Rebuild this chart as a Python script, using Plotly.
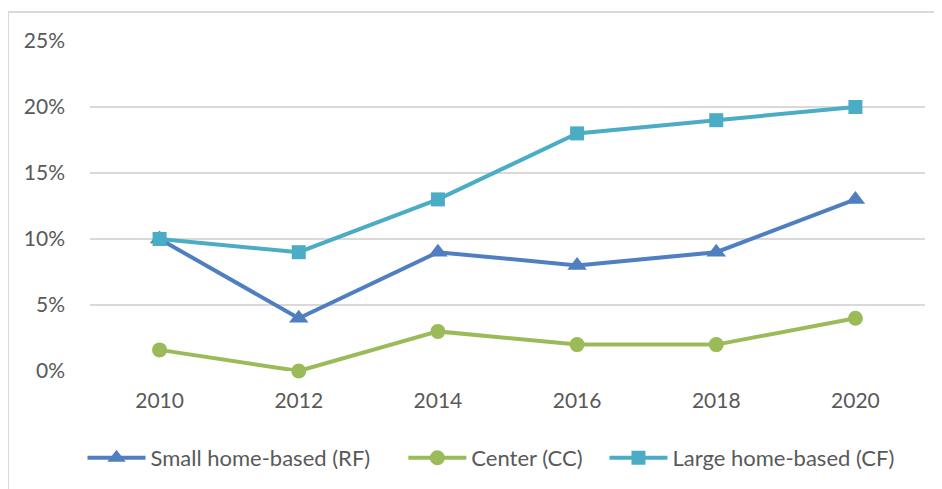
import plotly.graph_objects as go

years = ["2010", "2012", "2014", "2016", "2018", "2020"]
small_rf = [0.10, 0.04, 0.09, 0.08, 0.09, 0.13]
center_cc = [0.016, 0.0, 0.03, 0.02, 0.02, 0.04]
large_cf = [0.10, 0.09, 0.13, 0.18, 0.19, 0.20]
y_ticks = [0, 0.05, 0.10, 0.15, 0.20, 0.25]
y_tick_labels = ["0%", "5%", "10%", "15%", "20%", "25%"]
series_names = ["Small home-based (RF)", "Center (CC)", "Large home-based (CF)"]

W, H = 942, 489
OFF = 8  # page body margin
# target screen positions of plot area
SL, SR, ST, SB = 90, 925, 41, 371
L = SL - OFF
T = ST - OFF
R = W - (SR - OFF)
B = H - (SB - OFF)

NB = "\u00a0"
fig = go.Figure()
fig.add_trace(go.Scatter(x=years, y=small_rf, name=series_names[0] + NB * 5, mode="lines+markers",
                         line=dict(color="#4F7FC0", width=4),
                         marker=dict(symbol="triangle-up", size=17, color="#4F7FC0"),
                         cliponaxis=False))
fig.add_trace(go.Scatter(x=years, y=center_cc, name=series_names[1] + NB * 3, mode="lines+markers",
                         line=dict(color="#9BBB59", width=4),
                         marker=dict(symbol="circle", size=15, color="#9BBB59"),
                         cliponaxis=False))
fig.add_trace(go.Scatter(x=years, y=large_cf, name=series_names[2], mode="lines+markers",
                         line=dict(color="#4BACC6", width=4),
                         marker=dict(symbol="square", size=14, color="#4BACC6"),
                         cliponaxis=False))

pw = W - L - R
ph = H - T - B
def px_x(sx):
    return (sx - OFF - L) / pw
def px_y(sy):
    return (H - B - (sy - OFF)) / ph

fig.update_layout(
    width=W, height=H,
    margin=dict(l=L, r=R, t=T, b=B, autoexpand=False),
    paper_bgcolor="white", plot_bgcolor="white",
    font=dict(family="Lato, Open Sans, sans-serif", size=22, color="#595959"),
    showlegend=True,
    legend=dict(orientation="h", x=px_x(491), xanchor="center", y=px_y(458), yanchor="middle",
                font=dict(size=22, color="#595959"), itemwidth=58),
    xaxis=dict(type="category", range=[-0.5, 5.5], showgrid=False, zeroline=False,
               showline=False, ticks="", ticklabelstandoff=15,
               tickfont=dict(size=21, color="#595959")),
    yaxis=dict(range=[0, 0.25], tickvals=y_ticks, ticktext=y_tick_labels,
               showgrid=True, gridcolor="#D9D9D9", gridwidth=1.5, zeroline=False,
               showline=False, ticks="", ticklabelstandoff=24,
               tickfont=dict(size=21, color="#595959")),
    shapes=[
        dict(type="line", xref="paper", yref="paper", x0=px_x(8), x1=px_x(960),
             y0=px_y(12), y1=px_y(12), line=dict(color="#D9D9D9", width=2)),
        dict(type="line", xref="paper", yref="paper", x0=px_x(8), x1=px_x(8),
             y0=px_y(12), y1=px_y(500), line=dict(color="#D9D9D9", width=2)),
    ],
)

fig.write_html("out.html")
